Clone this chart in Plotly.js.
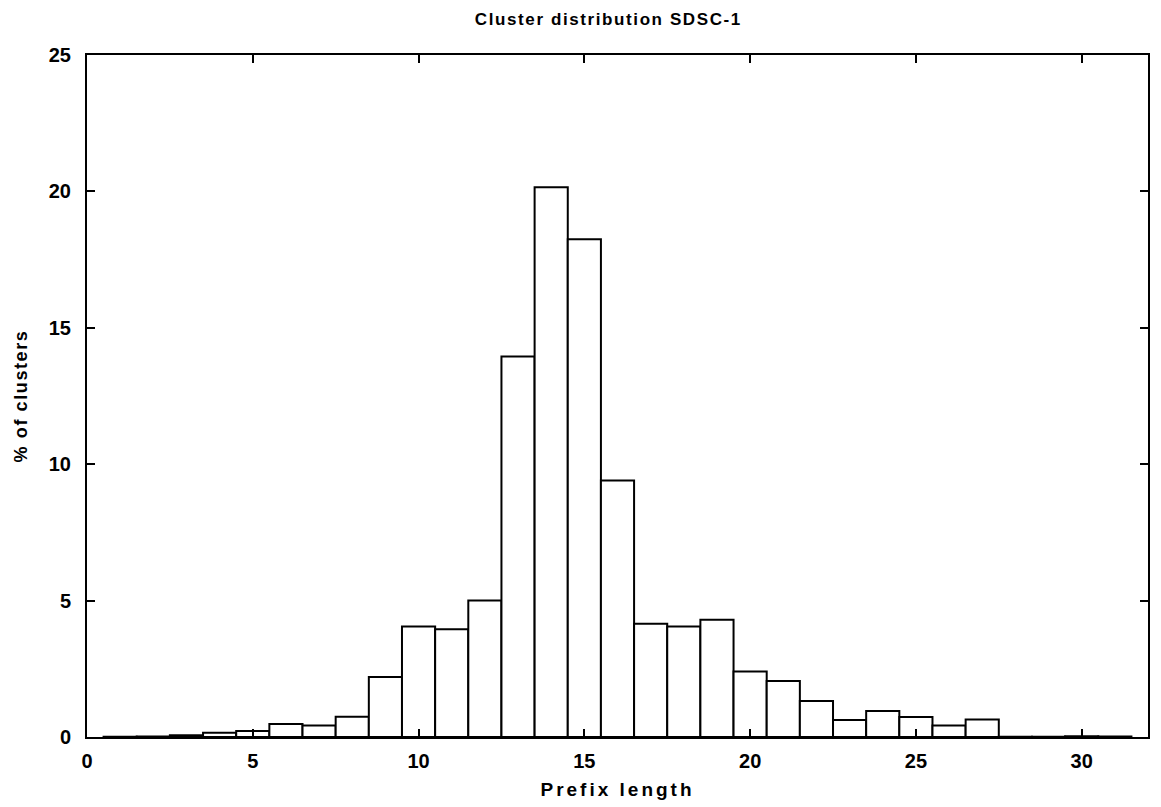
<!DOCTYPE html>
<html>
<head>
<meta charset="utf-8">
<script src="https://cdn.plot.ly/plotly-3.0.1.min.js"></script>
<style>
html,body{margin:0;padding:0;background:#fff;}
#chart{width:1161px;height:807px;}
.gtitle{letter-spacing:1.6px;}
.xtitle{letter-spacing:3px;}
.ytitle{letter-spacing:1.6px;}
</style>
</head>
<body>
<div id="chart"></div>
<script>
const prefixLength = [1, 2, 3, 4, 5, 6, 7, 8, 9, 10, 11, 12, 13, 14, 15, 16, 17, 18, 19, 20, 21, 22, 23, 24, 25, 26, 27, 28, 29, 30, 31];
const pctClusters = [0.01, 0.02, 0.06, 0.16, 0.22, 0.48, 0.42, 0.74, 2.2, 4.05, 3.95, 5.0, 13.95, 20.15, 18.25, 9.4, 4.15, 4.05, 4.3, 2.4, 2.05, 1.32, 0.62, 0.95, 0.73, 0.42, 0.64, 0.01, 0.01, 0.03, 0.02];
const xTicks = [0, 5, 10, 15, 20, 25, 30];
const yTicks = [0, 5, 10, 15, 20, 25];
const chartTitle = 'Cluster distribution SDSC-1';
const xLabel = 'Prefix length';
const yLabel = '% of clusters';

const fontFam = 'Liberation Sans, Arial, Helvetica, sans-serif';
const trace = {
  type: 'bar',
  x: prefixLength,
  y: pctClusters,
  width: 1,
  marker: {color: '#ffffff', line: {color: '#000000', width: 2}},
  hoverinfo: 'x+y'
};
const layout = {
  width: 1161,
  height: 807,
  paper_bgcolor: '#ffffff',
  plot_bgcolor: '#ffffff',
  margin: {l: 87, r: 13, t: 55, b: 70},
  showlegend: false,
  bargap: 0,
  title: {text: chartTitle, x: 0.524, xanchor: 'center', y: 0.984, yanchor: 'top', font: {family: fontFam, size: 17, weight: 'bold', color: '#000'}},
  xaxis: {
    range: [0, 32],
    tickmode: 'array', tickvals: xTicks, ticktext: xTicks.map(String),
    ticks: 'inside', ticklen: 8, tickwidth: 2, tickcolor: '#000',
    showline: true, linecolor: '#000', linewidth: 2, mirror: 'ticks',
    showgrid: false, zeroline: false,
    ticklabelstandoff: 5,
    tickfont: {family: fontFam, size: 20, weight: 'bold', color: '#000'},
    title: {text: xLabel, font: {family: fontFam, size: 19, weight: 'bold', color: '#000'}, standoff: 12}
  },
  yaxis: {
    range: [0, 25],
    tickmode: 'array', tickvals: yTicks, ticktext: yTicks.map(String),
    ticks: 'inside', ticklen: 8, tickwidth: 2, tickcolor: '#000',
    showline: true, linecolor: '#000', linewidth: 2, mirror: 'ticks',
    showgrid: false, zeroline: false,
    ticklabelstandoff: 10,
    tickfont: {family: fontFam, size: 20, weight: 'bold', color: '#000'},
    title: {text: yLabel, font: {family: fontFam, size: 18, weight: 'bold', color: '#000'}, standoff: 16}
  }
};
Plotly.newPlot('chart', [trace], layout, {displayModeBar: false, staticPlot: true});
</script>
</body>
</html>
